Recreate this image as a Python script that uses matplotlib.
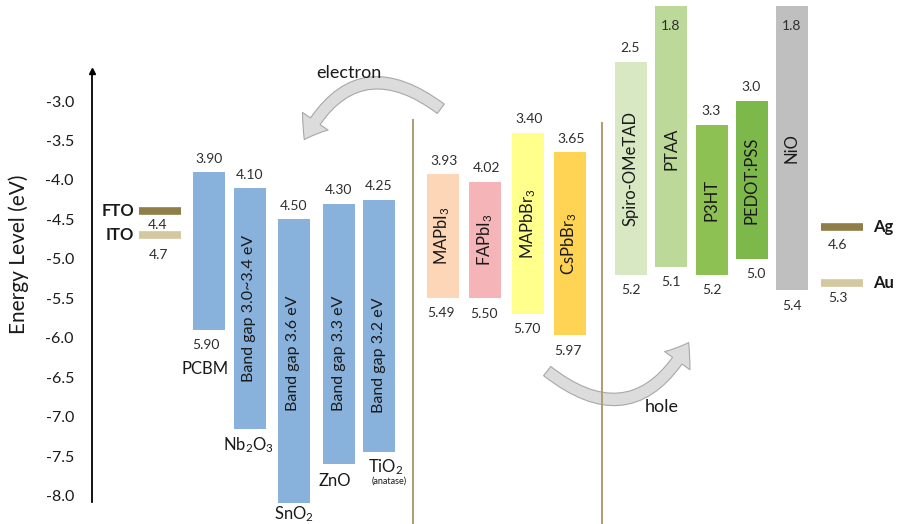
import matplotlib.pyplot as plt
from matplotlib.patches import FancyArrowPatch
from matplotlib.ticker import FormatStrFormatter

plt.rcParams['font.family'] = ['Lato', 'DejaVu Sans']
plt.rcParams['axes.unicode_minus'] = False
plt.rcParams['mathtext.fontset'] = 'custom'
plt.rcParams['mathtext.rm'] = 'Lato'
plt.rcParams['mathtext.it'] = 'Lato:italic'
plt.rcParams['mathtext.bf'] = 'Lato:bold'

# Electrode work functions (eV)
left_electrodes = ['FTO', 'ITO']
left_wf = [4.4, 4.7]
right_electrodes = ['Ag', 'Au']
right_wf = [4.6, 5.3]

# Electron transport layers: conduction / valence band (eV below vacuum)
etl_names = ['PCBM', 'Nb$_2$O$_3$', 'SnO$_2$', 'ZnO', 'TiO$_2$']
etl_cb = [3.90, 4.10, 4.50, 4.30, 4.25]
etl_vb = [5.90, 7.15, 8.10, 7.60, 7.45]
etl_gap = ['', 'Band gap 3.0~3.4 eV', 'Band gap 3.6 eV', 'Band gap 3.3 eV', 'Band gap 3.2 eV']

# Perovskite absorbers
pvk_names = ['MAPbI$_3$', 'FAPbI$_3$', 'MAPbBr$_3$', 'CsPbBr$_3$']
pvk_cb = [3.93, 4.02, 3.40, 3.65]
pvk_vb = [5.49, 5.50, 5.70, 5.97]

# Hole transport layers
htl_names = ['Spiro-OMeTAD', 'PTAA', 'P3HT', 'PEDOT:PSS', 'NiO']
htl_lumo = [2.5, 1.8, 3.3, 3.0, 1.8]
htl_homo = [5.2, 5.1, 5.2, 5.0, 5.4]

yticks = [-3.0, -3.5, -4.0, -4.5, -5.0, -5.5, -6.0, -6.5, -7.0, -7.5, -8.0]

# layout (x in pixel-like units across the figure)
ETL_X = [209, 249.5, 293.5, 338.5, 379]
PVK_X = [442.5, 485, 528, 569.5]
HTL_X = [630.5, 671, 711.5, 751.5, 792]
BAR_W = 32
ETL_COLOR = '#88b1db'
PVK_COLORS = ['#fdd6b8', '#f5b5b8', '#ffff8c', '#ffd454']
HTL_COLORS = ['#d8e8c2', '#bcd99a', '#8dc153', '#7db84a', '#bfbfbf']
DARK_METAL = '#8f7e47'
LIGHT_METAL = '#d3c89f'
NUM_COLOR = '#2e2e2e'
TEXT_COLOR = '#1a1a1a'
DIVIDER = '#ad9d70'

fig = plt.figure(figsize=(8.97, 5.24), dpi=100)
ax = fig.add_axes([0, 0, 1, 1])
ax.set_xlim(0, 897)
ax.set_ylim(-8.36, -1.72)

# y axis as an arrow on the left
for side in ['top', 'right', 'bottom']:
    ax.spines[side].set_visible(False)
ax.spines['left'].set_position(('data', 92))
ax.spines['left'].set_bounds(-8.08, -2.62)
ax.spines['left'].set_linewidth(1.3)
ax.plot([92], [-2.62], marker='^', color='black', ms=5, clip_on=False)
ax.set_xticks([])
ax.set_yticks(yticks)
ax.yaxis.set_major_formatter(FormatStrFormatter('%.1f'))
ax.tick_params(axis='y', length=0, pad=13, labelsize=11.5, labelcolor=TEXT_COLOR)
ax.set_ylabel('Energy Level (eV)', fontsize=15, color=TEXT_COLOR)
ax.yaxis.set_label_coords(0.032, 0.515)


def num(text, x, y, dy, dx=0, **kw):
    ax.annotate(text, xy=(x, y), xytext=(dx, dy), textcoords='offset points',
                ha='center', va='center', fontsize=10, color=NUM_COLOR, **kw)


# left electrodes
for i, (name, wf) in enumerate(zip(left_electrodes, left_wf)):
    col = DARK_METAL if i == 0 else LIGHT_METAL
    ax.hlines(-wf, 139, 181, color=col, lw=5.5)
    ax.text(134, -wf, name, ha='right', va='center', fontsize=12,
            fontweight='bold', color=TEXT_COLOR)
    num(f'{wf:.1f}', 158, -wf, -10 if i == 0 else -14)

# right electrodes
for i, (name, wf) in enumerate(zip(right_electrodes, right_wf)):
    col = DARK_METAL if i == 0 else LIGHT_METAL
    ax.hlines(-wf, 821, 863, color=col, lw=5.5)
    ax.text(873, -wf, name, ha='left', va='center', fontsize=12,
            fontweight='bold', color=TEXT_COLOR)
    num(f'{wf:.1f}', 838, -wf, -13 if i == 0 else -11)

# electron transport layers
etl_h = [vb - cb for cb, vb in zip(etl_cb, etl_vb)]
ax.bar(ETL_X, etl_h, bottom=[-vb for vb in etl_vb], width=BAR_W,
       color=ETL_COLOR, edgecolor='none')
gap_y = [None, -5.63, -6.2, -6.2, -6.22]
for i, x in enumerate(ETL_X):
    num(f'{etl_cb[i]:.2f}', x, -etl_cb[i], 9.5)
    if etl_gap[i]:
        ax.text(x, gap_y[i], etl_gap[i], rotation=90, ha='center', va='center',
                fontsize=11.5, color=TEXT_COLOR)
num(f'{etl_vb[0]:.2f}', ETL_X[0] - 3, -etl_vb[0], -11)
name_dy = [-28, -12, -7.5, -12, -11]
name_dx = [-3, -1, 0, -3, 5]
for i, x in enumerate(ETL_X):
    ax.annotate(etl_names[i], xy=(x, -etl_vb[i]), xytext=(name_dx[i], name_dy[i]),
                textcoords='offset points', ha='center', va='center',
                fontsize=12, color=TEXT_COLOR)
ax.annotate('(anatase)', xy=(ETL_X[4], -etl_vb[4]), xytext=(7, -21),
            textcoords='offset points', ha='center', va='center',
            fontsize=6.5, color=TEXT_COLOR)

# perovskites
pvk_h = [vb - cb for cb, vb in zip(pvk_cb, pvk_vb)]
ax.bar(PVK_X, pvk_h, bottom=[-vb for vb in pvk_vb], width=BAR_W,
       color=PVK_COLORS, edgecolor='none')
for i, x in enumerate(PVK_X):
    num(f'{pvk_cb[i]:.2f}', x, -pvk_cb[i], 9.5, dx=1)
    num(f'{pvk_vb[i]:.2f}', x, -pvk_vb[i], -11, dx=-1)
    ax.text(x, -(pvk_cb[i] + pvk_vb[i]) / 2, pvk_names[i], rotation=90,
            ha='center', va='center', fontsize=12, color=TEXT_COLOR)

# hole transport layers
htl_h = [homo - lumo for lumo, homo in zip(htl_lumo, htl_homo)]
ax.bar(HTL_X, htl_h, bottom=[-h for h in htl_homo], width=BAR_W,
       color=HTL_COLORS, edgecolor='none')
top_inside = [False, True, False, False, True]
for i, x in enumerate(HTL_X):
    if top_inside[i]:
        num(f'{htl_lumo[i]:.1f}', x, -htl_lumo[i], -14)
    else:
        num(f'{htl_lumo[i]:.1f}', x, -htl_lumo[i], 10)
    num(f'{htl_homo[i]:.1f}', x + (4 if i == 3 else 0), -htl_homo[i], -11)
    ax.text(x, -(htl_lumo[i] + htl_homo[i]) / 2 - (0.15 if i == 1 else 0),
            htl_names[i], rotation=90, ha='center', va='center',
            fontsize=12, color=TEXT_COLOR)

# interface dividers
ax.vlines(413, -8.5, -3.23, color=DIVIDER, lw=1.4, clip_on=False)
ax.vlines(602, -8.5, -3.26, color=DIVIDER, lw=1.4, clip_on=False)

# charge transfer arrows
arrow_style = 'simple,head_width=1.6,head_length=1.1,tail_width=0.6'
electron = FancyArrowPatch((443, -3.12), (303, -3.52),
                           connectionstyle='arc3,rad=0.6', arrowstyle=arrow_style,
                           mutation_scale=14, facecolor='#dcdcdc',
                           edgecolor='#a8a8a8', lw=0.8)
ax.add_patch(electron)
ax.text(349, -2.64, 'electron', ha='center', va='center', fontsize=13,
        color=TEXT_COLOR)

hole = FancyArrowPatch((545, -6.40), (690, -6.03),
                       connectionstyle='arc3,rad=0.6', arrowstyle=arrow_style,
                       mutation_scale=14, facecolor='#dcdcdc',
                       edgecolor='#a8a8a8', lw=0.8)
ax.add_patch(hole)
ax.text(662, -6.88, 'hole', ha='center', va='center', fontsize=13,
        color=TEXT_COLOR)

fig.savefig('out.png', dpi=100)
